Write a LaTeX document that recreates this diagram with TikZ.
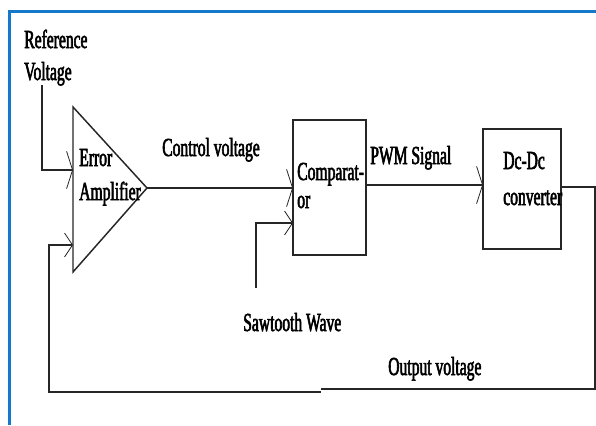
\documentclass[tikz,border=0pt]{standalone}
\usepackage{fontspec}
\setmainfont{Liberation Serif}[FakeStretch=0.6, FakeBold=2.2]
\usetikzlibrary{arrows.meta}
\definecolor{frameblue}{RGB}{22,120,200}
\begin{document}
\begin{tikzpicture}[x=0.75pt,y=-0.75pt,
  wire/.style={line width=1.1pt, black!85},
  arr/.style={wire, -{Straight Barb[length=4.5pt,width=28pt,line width=0.6pt]}},
  arrs/.style={wire, -{Straight Barb[length=6pt,width=18pt,line width=0.6pt]}},
  blockbox/.style={draw, line width=1.1pt, black!85, inner sep=0pt},
  lbl/.style={font=\fontsize{19.5}{22}\selectfont, inner sep=0pt, anchor=base west}]
\useasboundingbox (0,0) rectangle (596,425);
% blue frame
\draw[frameblue, line width=2.2pt] (9.5,425) -- (9.5,11.3) -- (596,11.3);

% error amplifier (triangle)
\draw[wire, line join=miter] (73,107) coordinate (eaT) -- (147,188) coordinate (eaO)
      -- (73,272) coordinate (eaB) -- cycle;
\coordinate (eaIn1) at (73,170);
\coordinate (eaIn2) at (73,245);

% blocks
\node[blockbox, minimum width=54.75pt, minimum height=101.25pt] (cmp) at (329.5,187.5) {};
\node[blockbox, minimum width=58.5pt, minimum height=90pt] (dc) at (522,189) {};

% labels
\node[lbl] (lref) at (24,48) {Reference};
\node[lbl] (lvolt) at (24,80) {Voltage};
\node[lbl] (lerr) at (79,166) {Error};
\node[lbl] (lamp) at (79,200) {Amplifier};
\node[lbl] (lctrl) at (162,156) {Control voltage};
\node[lbl] (lcmp1) at (297,180) {Comparat-};
\node[lbl] (lcmp2) at (297,208) {or};
\node[lbl] (lpwm) at (370,164) {PWM Signal};
\node[lbl] (ldc1) at (503,169) {Dc-Dc};
\node[lbl] (ldc2) at (503,205) {converter};
\node[lbl] (lsaw) at (243,331) {Sawtooth Wave};
\node[lbl] (lout) at (388,375) {Output voltage};

% connection points
\coordinate (refv) at (42,85);
\coordinate (cmpIn1) at (293,188);
\coordinate (cmpIn2) at (293,223);
\coordinate (saw) at (256,288);
\coordinate (cmpOut) at (366,185);
\coordinate (dcIn) at (483,185);
\coordinate (dcOut) at (561,187);
\coordinate (fbTR) at (595,187);
\coordinate (fbBR) at (595,389);
\coordinate (fbM1) at (321,389);
\coordinate (fbM2) at (321,392);
\coordinate (fbBL) at (49,392);

% connectors
\draw[arr] (refv) |- (eaIn1);
\draw[arr] (eaO) -- (cmpIn1);
\draw[arrs] (saw) |- (cmpIn2);
\draw[arr] (cmpOut) -- (dcIn);
\draw[wire] (dcOut) -- (fbTR) -- (fbBR) -- (fbM1);
\draw[arrs] (fbM2) -- (fbBL) |- (eaIn2);
\end{tikzpicture}
\end{document}
